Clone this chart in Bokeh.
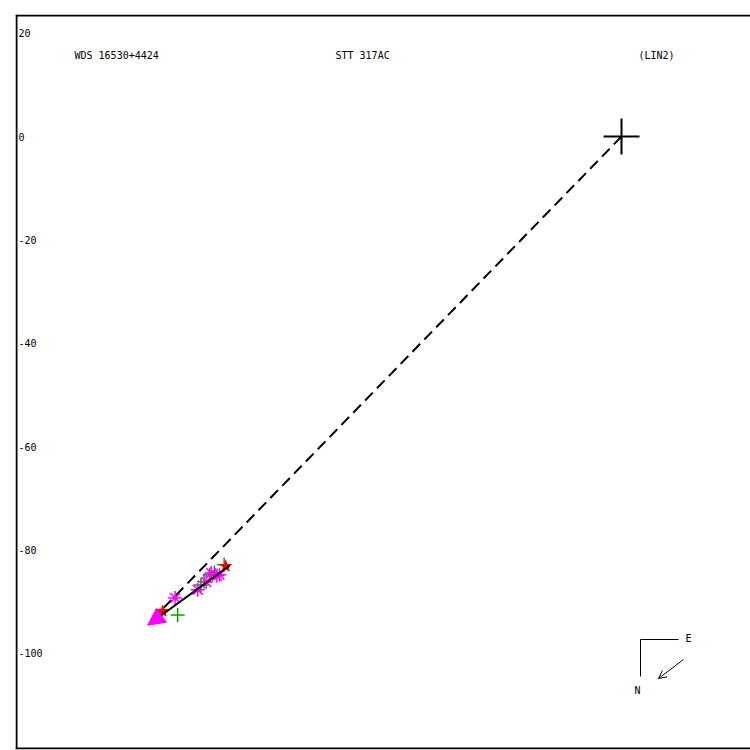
from bokeh.plotting import figure
from bokeh.models import Range1d, Span, Arrow, NormalHead, OpenHead, Label
from bokeh.core.properties import value
from bokeh.embed import file_html
from bokeh.resources import INLINE

# Relative position of the companion (same units on both axes)
primary_x = [0.0]
primary_y = [0.0]

# measures: magenta asterisks
mag_x = [-86.4, -82.0, -80.4, -79.4, -78.3, -77.8]
mag_y = [-89.3, -87.7, -86.2, -84.5, -85.0, -84.8]
# measures: green pluses
grn_x = [-85.9, -81.4, -80.8, -79.7, -78.8, -76.9]
grn_y = [-92.6, -86.8, -86.1, -84.8, -84.4, -82.9]
# measures: red stars
red_x = [-88.8, -76.6]
red_y = [-91.9, -83.2]

# linear fit segment (start -> end, arrow at end)
fit_x = [-75.9, -91.7]
fit_y = [-83.1, -94.6]
# dashed line from primary to the end of the motion
dash_x = [0.0, -91.0]
dash_y = [0.0, -93.7]

yticks = [20, 0, -20, -40, -60, -80, -100]

title_left = "WDS 16530+4424"
title_mid = "STT 317AC"
title_right = "(LIN2)"

# frame geometry
S = 5.167            # pixels per unit
X0, Y0 = 621, 136    # pixel position of the primary
FL, FT, FB = 15, 14, 749


def d(px, py):
    return (px - X0) / S, (Y0 - py) / S


x_start, y_end = d(FL, FT)
x_end, _ = d(750, FT)
_, y_start = d(FL, FB)

p = figure(width=750, height=750, output_backend="svg", toolbar_location=None,
           x_range=Range1d(x_start, x_end), y_range=Range1d(y_start, y_end),
           min_border_left=FL, min_border_top=FT, min_border_bottom=750 - FB,
           min_border_right=0, x_axis_type=None, y_axis_type=None)
p.grid.visible = False
p.outline_line_color = None
p.background_fill_color = "white"
p.border_fill_color = "white"

# frame: left, top and bottom edges, kept fully inside the frame
h = 1.0 / S
p.add_layout(Span(location=x_start + h, dimension="height", line_color="black", line_width=2))
p.add_layout(Span(location=y_end - h, dimension="width", line_color="black", line_width=2))
p.add_layout(Span(location=y_start + h, dimension="width", line_color="black", line_width=2))

font = value("DejaVu Sans Mono")

# y tick labels drawn inside the frame
p.text(x=[x_start] * len(yticks), y=yticks, text=[str(t) for t in yticks],
       x_offset=3, text_baseline="middle", text_align="left",
       text_font=font, text_font_size="10px", text_color="black")

# header texts
ty = d(0, 55)[1]
for px, txt in [(74, title_left), (335, title_mid), (638, title_right)]:
    p.add_layout(Label(x=d(px, 0)[0], y=ty, text=txt, text_font="DejaVu Sans Mono",
                       text_font_size="10px", text_baseline="middle", text_align="left",
                       text_color="black"))

# dashed line primary -> motion
p.line(dash_x, dash_y, line_color="black", line_width=2, line_dash="11 6")

# measures
p.scatter(grn_x, grn_y, marker="cross", size=14, line_color="#00a000", line_width=1.5)
p.scatter(mag_x, mag_y, marker="asterisk", size=14, line_color="magenta", line_width=1.5)
p.scatter(red_x, red_y, marker="star", size=12, fill_color="red", line_color="red")

# fit line with arrow head
p.add_layout(Arrow(x_start=fit_x[0], y_start=fit_y[0], x_end=fit_x[1], y_end=fit_y[1],
                   line_color="black", line_width=2,
                   end=NormalHead(size=17, fill_color="magenta", line_color="magenta")))

# primary
p.scatter(primary_x, primary_y, marker="cross", size=36, line_color="black", line_width=2)

# compass
cx, cy = d(640, 639)
ex, _ = d(678, 639)
_, ny = d(640, 676)
p.line([ex, cx, cx], [cy, cy, ny], line_color="black", line_width=1)
p.add_layout(Label(x=d(685, 0)[0], y=d(0, 638)[1], text="E", text_font="DejaVu Sans Mono",
                   text_font_size="10px", text_baseline="middle", text_align="left",
                   text_color="black"))
p.add_layout(Label(x=d(637, 0)[0], y=d(0, 690)[1], text="N", text_font="DejaVu Sans Mono",
                   text_font_size="10px", text_baseline="middle", text_align="center",
                   text_color="black"))
a0 = d(683, 659)
a1 = d(658, 678)
p.add_layout(Arrow(x_start=a0[0], y_start=a0[1], x_end=a1[0], y_end=a1[1],
                   line_color="black", line_width=1,
                   end=OpenHead(size=8, line_color="black", line_width=1)))

open("out.html", "w").write(file_html(p, INLINE))
